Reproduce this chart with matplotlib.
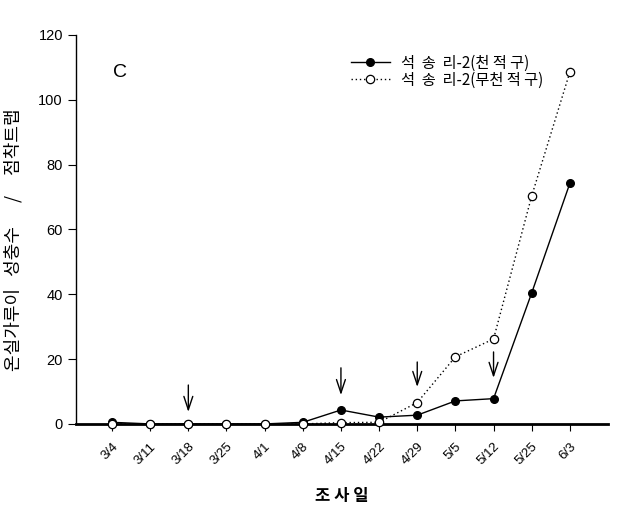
import matplotlib
matplotlib.use("Agg")
import matplotlib.pyplot as plt

plt.rcParams['font.family'] = ['Liberation Sans', 'Noto Sans CJK KR', 'DejaVu Sans']

dates = ["3/4", "3/11", "3/18", "3/25", "4/1", "4/8", "4/15", "4/22", "4/29",
         "5/5", "5/12", "5/25", "6/3"]
with_enemy = [0.5, 0, 0, 0, 0, 0.5, 4.3, 2.1, 2.7, 7.1, 7.8, 40.4, 74.2]
without_enemy = [0, 0, 0, 0, 0, 0, 0.4, 0.5, 6.6, 20.7, 26.2, 70.3, 108.5]
label_with = "석  송  리-2(천 적 구)"
label_without = "석  송  리-2(무천 적 구)"
# arrows: (date index, top value, tip value)
arrow_idx = [2, 6, 8, 10]
arrow_top = [12.0, 17.3, 19.1, 22.2]
arrow_tip = [3.7, 8.9, 11.4, 14.2]

fig = plt.figure(figsize=(6.4, 5.12), dpi=100)
ax = fig.add_axes([0.119, 0.172, 0.831, 0.760])

x = list(range(len(dates)))
ax.plot(x, with_enemy, color='black', lw=1.0, marker='o', ms=5.5,
        mfc='black', mec='black', label=label_with, clip_on=False, zorder=3)
ax.plot(x, without_enemy, color='black', lw=1.0, ls=(0, (1, 2)), marker='o', ms=6,
        mfc='white', mec='black', mew=0.9, label=label_without, clip_on=False, zorder=4)

for i, t, b in zip(arrow_idx, arrow_top, arrow_tip):
    ax.annotate("", xy=(i, b), xytext=(i, t),
                arrowprops=dict(arrowstyle='->,head_length=0.6,head_width=0.2',
                                color='black', lw=1.0,
                                mutation_scale=16, shrinkA=0, shrinkB=0))

ax.set_xlim(-0.94, 13.0)
ax.set_ylim(0, 120)
ax.set_yticks([0, 20, 40, 60, 80, 100, 120])
ax.set_xticks(x)
ax.set_xticklabels(dates, rotation=45, fontsize=9.5)
for lab in ax.get_xticklabels():
    lab.set_horizontalalignment('right')
    lab.set_rotation_mode('anchor')
ax.tick_params(axis='y', labelsize=10.5, length=6, direction='out')
ax.tick_params(axis='x', length=5, direction='out', pad=7)

ax.spines['top'].set_visible(False)
ax.spines['right'].set_visible(False)
ax.spines['bottom'].set_linewidth(2.0)
ax.spines['left'].set_linewidth(1.0)

ax.text(0.2, 108.5, "C", fontsize=14, ha='center', va='center')

ax.set_ylabel("온실가루이   성충수      /     점착트랩",
              family=['Noto Sans CJK KR', 'DejaVu Sans'], fontsize=13,
              fontweight='medium')
ax.yaxis.set_label_coords(-0.10, 0.473)
ax.set_xlabel("조 사 일", family=['Noto Sans CJK KR', 'DejaVu Sans'],
              fontsize=12, fontweight='bold', labelpad=14)

leg = ax.legend(loc='upper left', bbox_to_anchor=(0.49, 0.985), frameon=False,
                prop={'family': ['Noto Sans CJK KR', 'DejaVu Sans'], 'size': 11},
                handlelength=2.6, labelspacing=0.0, handletextpad=0.7)

fig.savefig("out.png", dpi=100)
